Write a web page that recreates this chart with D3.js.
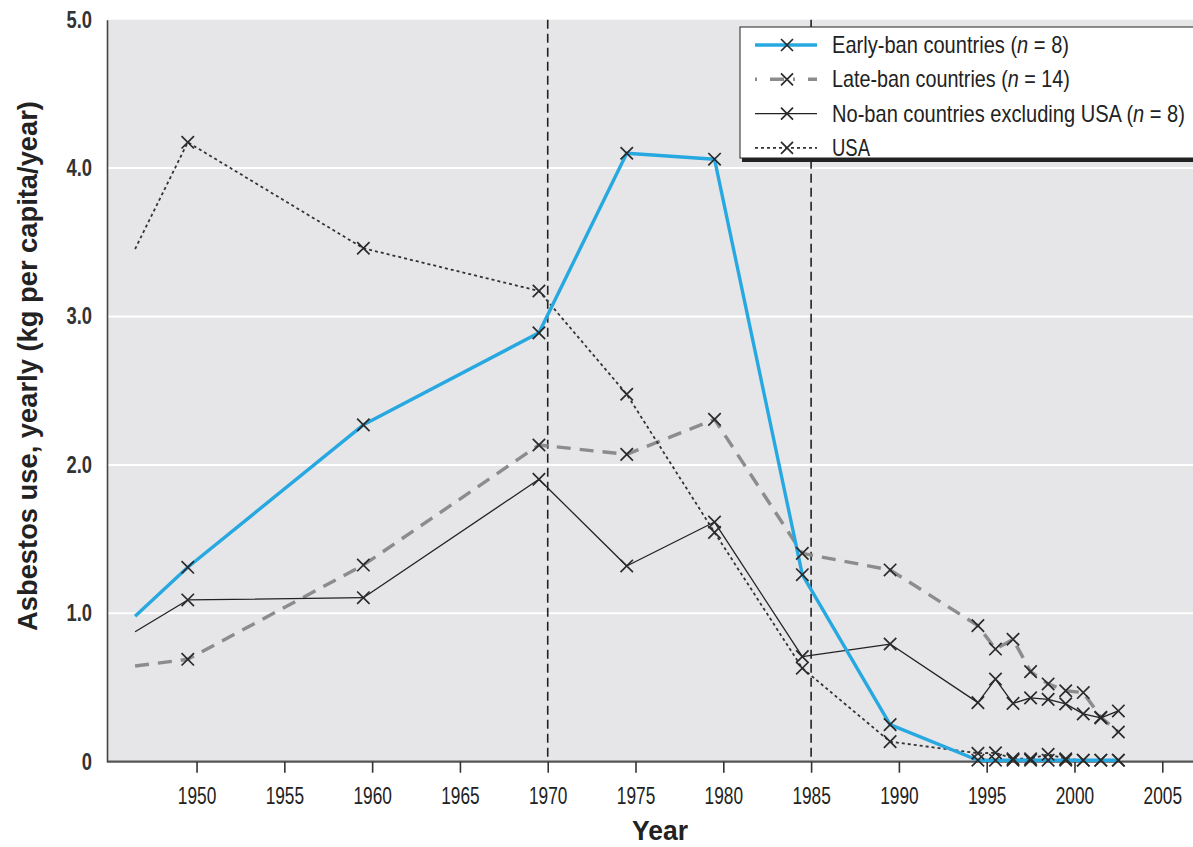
<!DOCTYPE html>
<html>
<head>
<meta charset="utf-8">
<script src="https://cdn.jsdelivr.net/npm/d3@7"></script>
<style>
  html, body { margin: 0; padding: 0; background: #fff; }
  svg { display: block; }
  .cond { font-family: "Liberation Sans", Arial, Helvetica, sans-serif; }
</style>
</head>
<body>
<svg id="chart" width="1193" height="847"></svg>
<script>
// Mid-year positions of the period averages and the annual values
const years = [1946.5, 1949.5, 1959.5, 1969.5, 1974.5, 1979.5, 1984.5, 1989.5,
               1994.5, 1995.5, 1996.5, 1997.5, 1998.5, 1999.5, 2000.5, 2001.5, 2002.5];

const earlyBan = [0.98, 1.31, 2.27, 2.89, 4.10, 4.06, 1.26, 0.25,
                  0.01, 0.01, 0.01, 0.01, 0.01, 0.01, 0.01, 0.01, 0.01];
const lateBan  = [0.645, 0.69, 1.325, 2.134, 2.071, 2.307, 1.404, 1.292,
                  0.917, 0.759, 0.825, 0.607, 0.524, 0.478, 0.466, 0.30, 0.20];
const noBan    = [0.876, 1.09, 1.105, 1.903, 1.319, 1.615, 0.708, 0.793,
                  0.398, 0.557, 0.393, 0.430, 0.420, 0.390, 0.322, 0.295, 0.342];
const usa      = [3.455, 4.174, 3.46, 3.172, 2.476, 1.545, 0.63, 0.135,
                  0.057, 0.06, 0.02, 0.02, 0.05, 0.02, 0.01, 0.01, 0.01];

const seriesNames = ["Early-ban countries", "Late-ban countries",
                     "No-ban countries excluding USA", "USA"];
const seriesN = [8, 14, 8, null];

const xTicks = [1950, 1955, 1960, 1965, 1970, 1975, 1980, 1985, 1990, 1995, 2000, 2005];
const yTicks = [0, 1, 2, 3, 4, 5];
const yTickLabels = ["0", "1.0", "2.0", "3.0", "4.0", "5.0"];
const banYears = [1970, 1985];

const styles = [
  { color: "#27a8e0", width: 3.4, dash: null },
  { color: "#8c8c8c", width: 3.4, dash: "14,9" },
  { color: "#222",    width: 1.3, dash: null },
  { color: "#333",    width: 1.8, dash: "3,3" }
];

const svg = d3.select("#chart");
const plot = { left: 107, right: 1193, top: 19.7, bottom: 761.7 };

const x = d3.scaleLinear().domain([1944.9, 2006.75]).range([plot.left, plot.right]);
const y = d3.scaleLinear().domain([0, 5]).range([plot.bottom, plot.top]);

// squeeze a text horizontally about its anchor point to imitate a condensed face
function condense(sel, factor, pre) {
  sel.each(function () {
    const t = d3.select(this);
    const ax = +t.attr("x") || 0;
    t.attr("x", 0).attr("transform", `${pre || ""} translate(${ax},0) scale(${factor},1)`);
  });
}

// plot background
svg.append("rect")
  .attr("x", plot.left).attr("y", plot.top)
  .attr("width", plot.right - plot.left).attr("height", plot.bottom - plot.top)
  .attr("fill", "#e6e6e8");

// horizontal gridlines
svg.append("g").selectAll("line")
  .data(yTicks.filter(v => v > 0 && v < 5))
  .join("line")
  .attr("x1", plot.left).attr("x2", plot.right)
  .attr("y1", d => y(d)).attr("y2", d => y(d))
  .attr("stroke", "#fff").attr("stroke-width", 2);

// vertical dashed lines at the ban years
svg.append("g").selectAll("line")
  .data(banYears)
  .join("line")
  .attr("x1", d => x(d)).attr("x2", d => x(d))
  .attr("y1", plot.top).attr("y2", plot.bottom)
  .attr("stroke", "#222").attr("stroke-width", 1.6)
  .attr("stroke-dasharray", "9,5");

// axes
const xAxis = d3.axisBottom(x).tickValues(xTicks).tickSize(11).tickPadding(14).tickFormat(d3.format("d"));
const gx = svg.append("g").attr("transform", `translate(0,${plot.bottom})`).call(xAxis);
gx.select(".domain").attr("stroke", "#555").attr("stroke-width", 2.2)
  .attr("d", `M${plot.left},0H${plot.right}`);
gx.selectAll(".tick line").attr("stroke", "#333").attr("stroke-width", 1.6);
gx.selectAll(".tick text").attr("class", "cond").attr("font-size", 24).attr("fill", "#222")
  .call(condense, 0.72);

const yAxis = d3.axisLeft(y).tickValues(yTicks).tickSize(0).tickPadding(15)
  .tickFormat((d, i) => yTickLabels[i]);
const gy = svg.append("g").attr("transform", `translate(${plot.left},0)`).call(yAxis);
gy.select(".domain").attr("stroke", "#444").attr("stroke-width", 1.6);
gy.selectAll(".tick text").attr("class", "cond").attr("font-size", 23)
  .attr("font-weight", "bold").attr("fill", "#333")
  .call(condense, 0.8);

// axis titles
const yTitle = svg.append("text").attr("class", "cond")
  .attr("text-anchor", "middle").attr("font-size", 27).attr("font-weight", "bold")
  .attr("fill", "#222").text("Asbestos use, yearly (kg per capita/year)");
const yTitleK = 530 / yTitle.node().getComputedTextLength();
yTitle.attr("transform", `translate(37,366) rotate(-90) scale(${yTitleK},1)`);

const xTitle = svg.append("text").attr("class", "cond")
  .attr("text-anchor", "middle").attr("font-size", 28).attr("font-weight", "bold")
  .attr("fill", "#222").text("Year");
const xTitleK = 56 / xTitle.node().getComputedTextLength();
xTitle.attr("transform", `translate(660,840) scale(${xTitleK},1)`);

// series
const allSeries = [earlyBan, lateBan, noBan, usa];
const line = d3.line().x(d => x(d[0])).y(d => y(d[1]));

function drawX(sel, size) {
  return sel.attr("d", `M${-size},${-size}L${size},${size}M${-size},${size}L${size},${-size}`)
    .attr("fill", "none").attr("stroke", "#2a2a2a").attr("stroke-width", 1.7);
}

// draw order: late-ban, USA, no-ban, early-ban
[1, 3, 2, 0].forEach(si => {
  const pts = years.map((yr, i) => [yr, allSeries[si][i]]);
  const st = styles[si];
  svg.append("path").datum(pts)
    .attr("d", line)
    .attr("fill", "none")
    .attr("stroke", st.color)
    .attr("stroke-width", st.width)
    .attr("stroke-dasharray", st.dash)
    .attr("stroke-linejoin", "round");
});
[1, 3, 2, 0].forEach(si => {
  const pts = years.map((yr, i) => [yr, allSeries[si][i]]).slice(1);
  svg.append("g").selectAll("path")
    .data(pts)
    .join("path")
    .attr("transform", d => `translate(${x(d[0])},${y(d[1])})`)
    .call(drawX, 6.2);
});

// legend
const legendWidths = [237, 238, 353, 38];
const lg = svg.append("g").attr("transform", "translate(740,27)");
lg.append("rect").attr("x", 2).attr("y", 4).attr("width", 470).attr("height", 131).attr("fill", "#222");
lg.append("rect").attr("x", 0).attr("y", 0).attr("width", 470).attr("height", 131)
  .attr("fill", "#fff").attr("stroke", "#222").attr("stroke-width", 1);

seriesNames.forEach((name, i) => {
  const cy = 18 + i * 34.3;
  const st = styles[i];
  lg.append("line")
    .attr("x1", 15).attr("x2", 77).attr("y1", cy).attr("y2", cy)
    .attr("stroke", st.color).attr("stroke-width", st.width)
    .attr("stroke-dasharray", i === 1 ? "2,13,14,9" : st.dash);
  lg.append("path").attr("transform", `translate(47,${cy})`).call(drawX, 6);

  // one squeezed label; the "n" is set in italic
  const t = lg.append("text").attr("class", "cond")
    .attr("y", cy + 8).attr("font-size", 23).attr("fill", "#222");
  if (seriesN[i] !== null) {
    t.append("tspan").text(name + " (");
    t.append("tspan").attr("font-style", "italic").text("n");
    t.append("tspan").text(" = " + seriesN[i] + ")");
  } else {
    t.text(name);
  }
  const k = legendWidths[i] / t.node().getComputedTextLength();
  t.attr("transform", `translate(92,0) scale(${k},1)`);
});
</script>
</body>
</html>
